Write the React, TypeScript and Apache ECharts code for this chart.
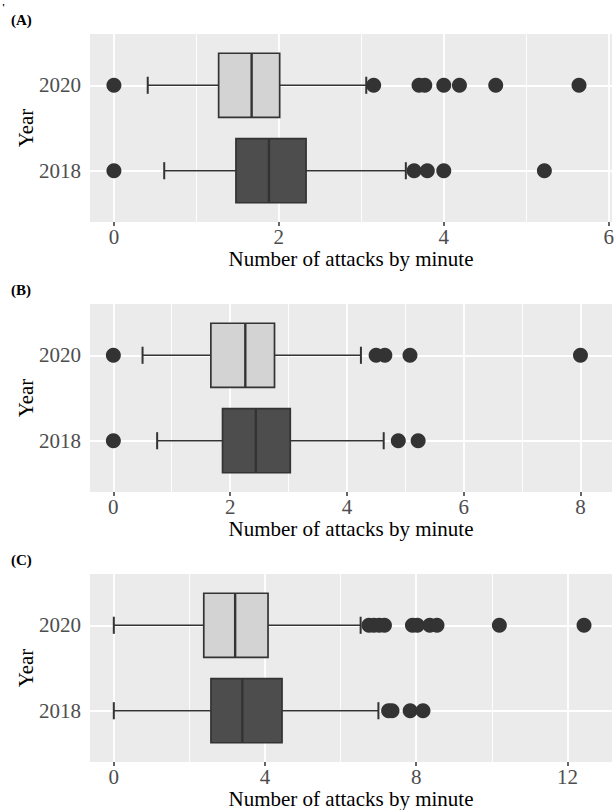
import React, { useEffect, useRef } from 'react';
import * as echarts from 'echarts';

// Year positions on the (value-type) y axis: 2018 -> 1, 2020 -> 2
const yearNames = ['2018', '2020'];
const yearPos = [1, 2];

// Box statistics: [lower whisker, Q1, median, Q3, upper whisker]
const statsA2018 = [0.61, 1.48, 1.88, 2.33, 3.54];
const statsA2020 = [0.41, 1.27, 1.67, 2.01, 3.06];
const outA2018 = [0, 3.64, 3.8, 4.0, 5.22];
const outA2020 = [0, 3.15, 3.7, 3.77, 4.0, 4.19, 4.63, 5.64];

const statsB2018 = [0.75, 1.87, 2.44, 3.03, 4.63];
const statsB2020 = [0.5, 1.67, 2.26, 2.76, 4.24];
const outB2018 = [0, 4.88, 5.22];
const outB2020 = [0, 4.5, 4.65, 5.08, 8.0];

const statsC2018 = [0, 2.57, 3.4, 4.45, 7.0];
const statsC2020 = [0, 2.38, 3.21, 4.08, 6.53];
const outC2018 = [7.27, 7.36, 7.84, 8.18];
const outC2020 = [6.75, 6.88, 7.02, 7.16, 7.9, 8.03, 8.36, 8.55, 10.2, 12.44];

const ticksA = [0, 2, 4, 6];
const minorA = [1, 3, 5];
const ticksB = [0, 2, 4, 6, 8];
const minorB = [1, 3, 5, 7];
const ticksC = [0, 4, 8, 12];
const minorC = [2, 6, 10];

const panelLabels = ['(A)', '(B)', '(C)'];
const xTitle = 'Number of attacks by minute';
const yTitle = 'Year';

const SERIF = '"Liberation Serif", "Times New Roman", serif';
const boxFills = ['#4D4D4D', '#D3D3D3'];

const panels = [
  { label: panelLabels[0], xMin: -0.29, xMax: 6.04, ticks: ticksA, minor: minorA, s18: statsA2018, s20: statsA2020, o18: outA2018, o20: outA2020 },
  { label: panelLabels[1], xMin: -0.4, xMax: 8.54, ticks: ticksB, minor: minorB, s18: statsB2018, s20: statsB2020, o18: outB2018, o20: outB2020 },
  { label: panelLabels[2], xMin: -0.63, xMax: 13.18, ticks: ticksC, minor: minorC, s18: statsC2018, s20: statsC2020, o18: outC2018, o20: outC2020 },
];

const PANEL_STEP = 270;
const GRID_LEFT = 90;
const GRID_TOP = 34;
const GRID_W = 522;
const GRID_H = 188;

function renderBox(params: any, api: any) {
  const y = api.value(0);
  const lo = api.value(1);
  const q1 = api.value(2);
  const med = api.value(3);
  const q3 = api.value(4);
  const hi = api.value(5);
  const pLo = api.coord([lo, y]);
  const pQ1 = api.coord([q1, y]);
  const pMed = api.coord([med, y]);
  const pQ3 = api.coord([q3, y]);
  const pHi = api.coord([hi, y]);
  const boxH = api.size([0, 0.75])[1];
  const capH = api.size([0, 0.2])[1];
  const fill = boxFills[params.dataIndex];
  const stroke = '#333333';
  const lw = 1.7;
  return {
    type: 'group',
    children: [
      { type: 'line', shape: { x1: pLo[0], y1: pLo[1], x2: pQ1[0], y2: pQ1[1] }, style: { stroke, lineWidth: lw } },
      { type: 'line', shape: { x1: pQ3[0], y1: pQ3[1], x2: pHi[0], y2: pHi[1] }, style: { stroke, lineWidth: lw } },
      { type: 'line', shape: { x1: pLo[0], y1: pLo[1] - capH / 2, x2: pLo[0], y2: pLo[1] + capH / 2 }, style: { stroke, lineWidth: 2 } },
      { type: 'line', shape: { x1: pHi[0], y1: pHi[1] - capH / 2, x2: pHi[0], y2: pHi[1] + capH / 2 }, style: { stroke, lineWidth: 2 } },
      { type: 'rect', shape: { x: pQ1[0], y: pQ1[1] - boxH / 2, width: pQ3[0] - pQ1[0], height: boxH }, style: { fill, stroke, lineWidth: lw } },
      { type: 'line', shape: { x1: pMed[0], y1: pMed[1] - boxH / 2, x2: pMed[0], y2: pMed[1] + boxH / 2 }, style: { stroke, lineWidth: 2.4 } },
    ],
  };
}

function buildOption() {
  const grid: any[] = [];
  const xAxis: any[] = [];
  const yAxis: any[] = [];
  const series: any[] = [];
  const graphic: any[] = [];

  panels.forEach((p, i) => {
    const off = i * PANEL_STEP;
    grid.push({
      left: GRID_LEFT,
      top: off + GRID_TOP,
      width: GRID_W,
      height: GRID_H,
      show: true,
      backgroundColor: '#EBEBEB',
      borderWidth: 0,
      containLabel: false,
      outerBoundsMode: 'none',
    });
    xAxis.push({
      type: 'value',
      gridIndex: i,
      min: p.xMin,
      max: p.xMax,
      axisLine: { show: false },
      splitLine: { show: false },
      axisTick: { show: true, length: 4, customValues: p.ticks, lineStyle: { color: '#333333', width: 1.5 } },
      axisLabel: {
        show: true,
        customValues: p.ticks,
        margin: 4,
        fontFamily: SERIF,
        fontSize: 21,
        color: '#4D4D4D',
        formatter: (v: number) => String(v),
      },
    });
    yAxis.push({
      type: 'value',
      gridIndex: i,
      min: 0.4,
      max: 2.6,
      axisLine: { show: false },
      splitLine: { show: false },
      axisTick: { show: true, length: 5, customValues: yearPos, lineStyle: { color: '#333333', width: 1.5 } },
      axisLabel: {
        show: true,
        customValues: yearPos,
        margin: 9,
        fontFamily: SERIF,
        fontSize: 21,
        color: '#4D4D4D',
        formatter: (v: number) => yearNames[yearPos.indexOf(v)] ?? '',
      },
    });

    // Panel grid lines (major + minor), drawn under the boxes
    series.push({
      type: 'line',
      xAxisIndex: i,
      yAxisIndex: i,
      data: [],
      silent: true,
      markLine: {
        silent: true,
        z: 1,
        symbol: 'none',
        label: { show: false },
        emphasis: { disabled: true },
        lineStyle: { color: '#FFFFFF', type: 'solid', width: 1.8 },
        data: [
          ...p.ticks.map((v) => ({ xAxis: v, lineStyle: { color: '#FFFFFF', type: 'solid', width: 1.8 } })),
          ...p.minor.map((v) => ({ xAxis: v, lineStyle: { color: '#FFFFFF', type: 'solid', width: 0.9 } })),
          ...yearPos.map((v) => ({ yAxis: v, lineStyle: { color: '#FFFFFF', type: 'solid', width: 1.8 } })),
        ],
      },
    });

    series.push({
      type: 'custom',
      xAxisIndex: i,
      yAxisIndex: i,
      z: 3,
      silent: true,
      renderItem: renderBox,
      encode: { x: [1, 2, 3, 4, 5], y: 0 },
      data: [
        [yearPos[0], ...p.s18],
        [yearPos[1], ...p.s20],
      ],
    });

    series.push({
      type: 'scatter',
      xAxisIndex: i,
      yAxisIndex: i,
      z: 4,
      silent: true,
      symbol: 'circle',
      symbolSize: 15,
      itemStyle: { color: '#333333', opacity: 1 },
      data: [
        ...p.o18.map((v) => [v, yearPos[0]]),
        ...p.o20.map((v) => [v, yearPos[1]]),
      ],
    });

    graphic.push({
      type: 'text',
      left: 11,
      top: off + 12,
      style: { text: p.label, font: `bold 15px ${SERIF}`, fill: '#000000' },
    });
    graphic.push({
      type: 'text',
      x: 26,
      y: off + GRID_TOP + GRID_H / 2,
      rotation: Math.PI / 2,
      style: {
        text: yTitle,
        font: `21px ${SERIF}`,
        fill: '#000000',
        textAlign: 'center',
        textVerticalAlign: 'middle',
        align: 'center',
        verticalAlign: 'middle',
      },
    });
    graphic.push({
      type: 'text',
      x: GRID_LEFT + GRID_W / 2,
      y: off + 259,
      style: {
        text: xTitle,
        font: `21px ${SERIF}`,
        fill: '#000000',
        textAlign: 'center',
        textVerticalAlign: 'middle',
        align: 'center',
        verticalAlign: 'middle',
      },
    });
  });

  graphic.push({
    type: 'text',
    left: 2,
    top: 1,
    style: { text: "'", font: `bold 11px ${SERIF}`, fill: '#000000' },
  });

  return {
    animation: false,
    backgroundColor: '#FFFFFF',
    grid,
    xAxis,
    yAxis,
    series,
    graphic,
  };
}

export default function App() {
  const ref = useRef<HTMLDivElement>(null);
  useEffect(() => {
    document.body.style.margin = '0';
    if (!ref.current) return;
    const chart = echarts.init(ref.current, null, { renderer: 'svg' });
    chart.setOption(buildOption() as any);
    return () => {
      chart.dispose();
    };
  }, []);
  return <div ref={ref} style={{ width: 616, height: 810 }} />;
}
